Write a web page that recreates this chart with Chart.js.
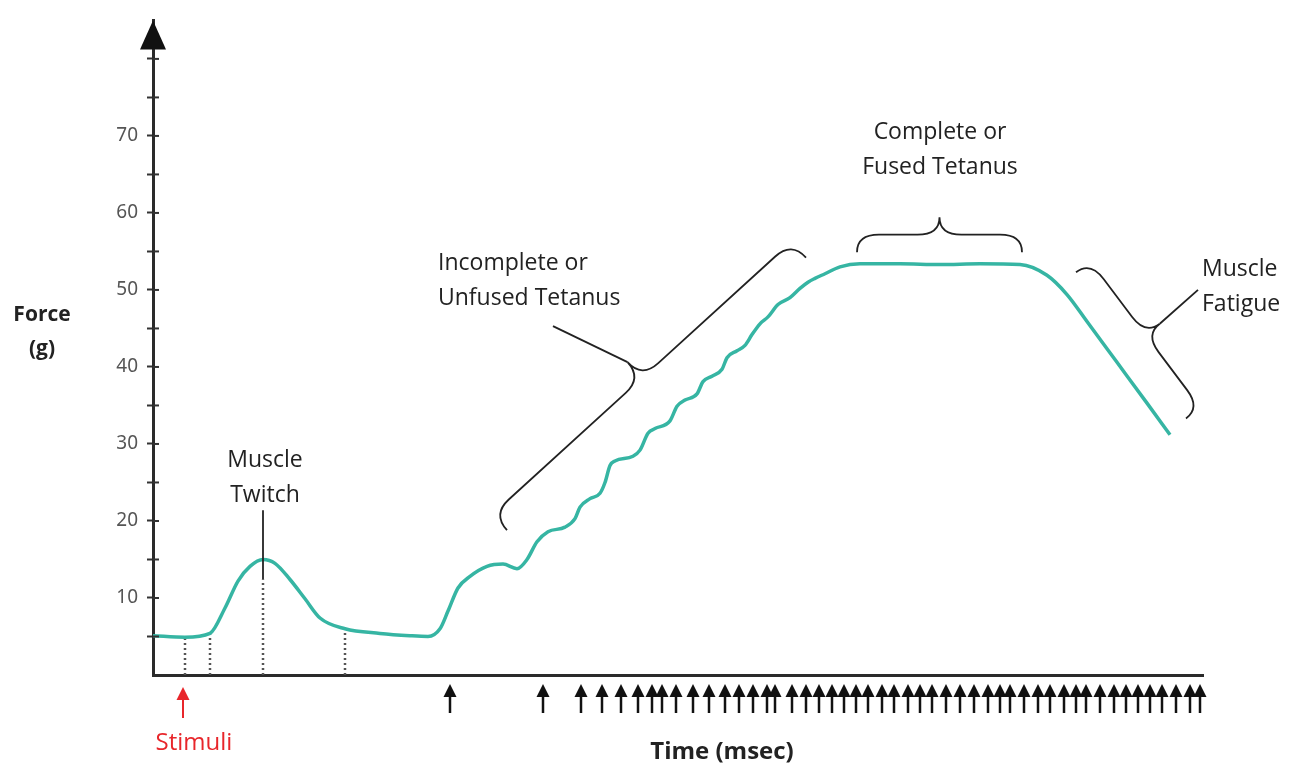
<!DOCTYPE html>
<html>
<head>
<meta charset="utf-8">
<title>Muscle contraction</title>
<script src="https://cdn.jsdelivr.net/npm/chart.js@4.4.1/dist/chart.umd.min.js"></script>
<style>
  html, body { margin: 0; padding: 0; background: #fff; }
  #wrap { width: 1297px; height: 769px; }
</style>
</head>
<body>
<div id="wrap"><canvas id="forceChart"></canvas></div>
<script>
// Tid (msec, godtycklig skala) och kraft (g)
const curveTime = [0, 32, 57, 72, 85, 97, 110, 122, 137, 152, 167, 192, 227, 257, 275, 287, 295, 305, 317, 334,
    350, 364, 374, 384, 395, 412, 422, 427, 437, 447, 452, 457, 462, 480, 487, 495, 502, 517, 524, 532,
    544, 550, 559, 569, 574, 584, 592, 599, 607, 615, 625, 637, 647, 655, 662, 672, 687, 707, 747, 787,
    827, 867, 894, 914, 934, 964, 994, 1017];
const curveForce = [5.1, 4.9, 5.4, 8.7, 12.2, 14.1, 15.0, 14.5, 12.4, 9.9, 7.4, 6.0, 5.4, 5.1, 5.0, 6.0, 8.3, 11.3, 12.8, 14.1,
    14.4, 13.8, 15.0, 17.3, 18.6, 19.2, 20.3, 21.8, 22.9, 23.6, 25.0, 27.2, 27.8, 28.4, 29.2, 31.4, 32.0, 33.0, 34.9, 35.7,
    36.5, 38.1, 38.8, 39.7, 41.2, 42.1, 42.8, 44.2, 45.6, 46.5, 48.1, 49.0, 50.2, 51.0, 51.5, 52.1, 53.0, 53.4, 53.4, 53.3,
    53.4, 53.3, 51.9, 49.4, 45.9, 40.6, 35.3, 31.2];

// Stimuli (pilar under x-axeln)
const firstStimulus = [30];
const stimulusTimes = [297, 390, 428, 449, 468, 485, 499, 509, 523, 540, 556, 572, 586, 600, 614, 622, 639, 653, 666, 679,
    691, 703, 715, 729, 741, 755, 767, 779, 793, 807, 821, 835, 847, 857, 871, 885, 897, 911, 923, 933,
    947, 961, 973, 985, 997, 1009, 1023, 1037, 1047];

// Prickade linjer ner till x-axeln
const dropTimes = [32, 57, 110, 192];
const dropForce = [4.9, 5.4, 12.4, 6.0];

const labeledTicks = [10, 20, 30, 40, 50, 60, 70];

const FONT = '"Open Sans", "Noto Sans", sans-serif';
const INK = '#222';

// Textetiketter, placerade i datakoordinater
const texts = [
    { lines: ['Muscle', 'Twitch'], t: 112, v: 27.8, align: 'center' },
    { lines: ['Incomplete or', 'Unfused Tetanus'], t: 285, v: 53.5, align: 'left' },
    { lines: ['Complete or', 'Fused Tetanus'], t: 787, v: 70.5, align: 'center' },
    { lines: ['Muscle', 'Fatigue'], t: 1049, v: 52.7, align: 'left' }
];

// Klammerparenteser: start, slut, djup (px) och pekare
const braces = [
    { a: [354, 18.8], b: [653, 54.2], depth: 43, pointer: [400, 45.3] },
    { a: [704, 54.9], b: [869, 54.9], depth: 35, pointer: null },
    { a: [923, 52.3], b: [1033, 33.3], depth: 36, pointer: [1045, 50] }
];

function drawBrace(ctx, A, B, d) {
    const dx = B.x - A.x, dy = B.y - A.y;
    const L = Math.hypot(dx, dy);
    const u = { x: dx / L, y: dy / L };
    const n = { x: u.y, y: -u.x };
    const h = d / 2;
    const q = Math.min(22, L / 4);
    const P = (s, k) => ({ x: A.x + u.x * s + n.x * k, y: A.y + u.y * s + n.y * k });
    const m = L / 2;
    ctx.beginPath();
    ctx.moveTo(A.x, A.y);
    let c = P(0, h), e = P(q, h);
    ctx.quadraticCurveTo(c.x, c.y, e.x, e.y);
    e = P(m - q, h); ctx.lineTo(e.x, e.y);
    c = P(m, h); e = P(m, d);
    ctx.quadraticCurveTo(c.x, c.y, e.x, e.y);
    e = P(m + q, h);
    ctx.quadraticCurveTo(c.x, c.y, e.x, e.y);
    e = P(L - q, h); ctx.lineTo(e.x, e.y);
    c = P(L, h);
    ctx.quadraticCurveTo(c.x, c.y, B.x, B.y);
    ctx.stroke();
    return P(m, d);
}

function drawArrow(ctx, x, top, headH, halfW, bottom, color, stemW) {
    ctx.fillStyle = color;
    ctx.strokeStyle = color;
    ctx.lineWidth = stemW;
    ctx.beginPath();
    ctx.moveTo(x, top + headH - 1);
    ctx.lineTo(x, bottom);
    ctx.stroke();
    ctx.beginPath();
    ctx.moveTo(x, top);
    ctx.lineTo(x + halfW, top + headH);
    ctx.lineTo(x - halfW, top + headH);
    ctx.closePath();
    ctx.fill();
}

const decorations = {
    id: 'decorations',
    afterDraw(chart) {
        const { ctx, chartArea, scales: { x, y } } = chart;
        const px = t => x.getPixelForValue(t);
        const py = v => y.getPixelForValue(v);
        const axisX = chartArea.left;
        const axisY = chartArea.bottom;
        ctx.save();

        // pil på y-axeln
        ctx.fillStyle = '#111';
        ctx.beginPath();
        ctx.moveTo(axisX, chartArea.top);
        ctx.lineTo(axisX + 13, chartArea.top + 29);
        ctx.lineTo(axisX - 13, chartArea.top + 29);
        ctx.closePath();
        ctx.fill();

        // små tickstreck innanför axeln
        ctx.strokeStyle = '#333';
        ctx.lineWidth = 2;
        y.ticks.forEach(tk => {
            if (tk.value === 0 || tk.value >= 85) return;
            const yy = py(tk.value);
            ctx.beginPath();
            ctx.moveTo(axisX, yy);
            ctx.lineTo(axisX + 6, yy);
            ctx.stroke();
        });

        // twitch-pekare
        ctx.strokeStyle = INK;
        ctx.lineWidth = 1.8;
        ctx.beginPath();
        ctx.moveTo(px(110), py(21.4));
        ctx.lineTo(px(110), py(12.4));
        ctx.stroke();

        // klamrar
        braces.forEach(br => {
            const cusp = drawBrace(ctx, { x: px(br.a[0]), y: py(br.a[1]) }, { x: px(br.b[0]), y: py(br.b[1]) }, br.depth);
            if (br.pointer) {
                ctx.beginPath();
                ctx.moveTo(cusp.x, cusp.y);
                ctx.lineTo(px(br.pointer[0]), py(br.pointer[1]));
                ctx.stroke();
            }
        });

        // texter
        ctx.fillStyle = INK;
        ctx.font = '23px ' + FONT;
        ctx.textBaseline = 'middle';
        texts.forEach(tx => {
            ctx.textAlign = tx.align;
            tx.lines.forEach((line, i) => ctx.fillText(line, px(tx.t), py(tx.v) + i * 35));
        });

        ctx.textAlign = 'center';
        ctx.font = 'bold 21px ' + FONT;
        ctx.fillText('Force', px(-111), py(46.7));
        ctx.fillText('(g)', px(-111), py(42.3));
        ctx.font = 'bold 24px ' + FONT;
        ctx.fillText('Time (msec)', px(569), axisY + 77);

        // stimuli-pilar
        stimulusTimes.forEach(t => drawArrow(ctx, px(t), axisY + 9, 13, 6.5, axisY + 38, '#111', 2.5));
        firstStimulus.forEach(t => drawArrow(ctx, px(t), axisY + 12, 13, 6.5, axisY + 43, '#e8262b', 2));
        ctx.fillStyle = '#e8262b';
        ctx.font = '24px ' + FONT;
        ctx.fillText('Stimuli', px(41), axisY + 68);

        ctx.restore();
    }
};

const curveData = curveTime.map((t, i) => ({ x: t, y: curveForce[i] }));
const dropSets = dropTimes.map((t, i) => ({
    data: [{ x: t, y: 0 }, { x: t, y: dropForce[i] }],
    borderColor: '#555',
    borderWidth: 2.5,
    borderDash: [2, 3],
    pointRadius: 0,
    tension: 0
}));

new Chart(document.getElementById('forceChart'), {
    type: 'line',
    data: {
        datasets: [{
            label: 'Force',
            data: curveData,
            borderColor: '#36b5a3',
            borderWidth: 3.5,
            pointRadius: 0,
            cubicInterpolationMode: 'monotone',
            order: 0
        }, ...dropSets]
    },
    options: {
        responsive: true,
        maintainAspectRatio: false,
        animation: false,
        layout: { padding: { top: 13, right: 94, bottom: 0, left: 0 } },
        plugins: {
            legend: { display: false },
            tooltip: { enabled: false }
        },
        scales: {
            x: {
                type: 'linear',
                min: 0,
                max: 1050,
                grid: { display: false },
                border: { display: true, color: '#2a2a2a', width: 3 },
                ticks: { display: false },
                afterFit(scale) { scale.height = 94; }
            },
            y: {
                min: 0,
                max: 85,
                grid: {
                    drawOnChartArea: false,
                    drawTicks: true,
                    tickLength: 6,
                    tickWidth: 2,
                    tickColor: c => (c.tick && (c.tick.value === 0 || c.tick.value >= 85)) ? 'rgba(0,0,0,0)' : '#333'
                },
                border: { display: true, color: '#2a2a2a', width: 3 },
                ticks: {
                    stepSize: 5,
                    autoSkip: false,
                    padding: 9,
                    color: '#555',
                    font: { family: '"Noto Sans", sans-serif', size: 19 },
                    callback: v => labeledTicks.includes(v) ? String(v) : ''
                },
                afterFit(scale) { scale.width = 153; }
            }
        }
    },
    plugins: [decorations]
});
</script>
</body>
</html>
